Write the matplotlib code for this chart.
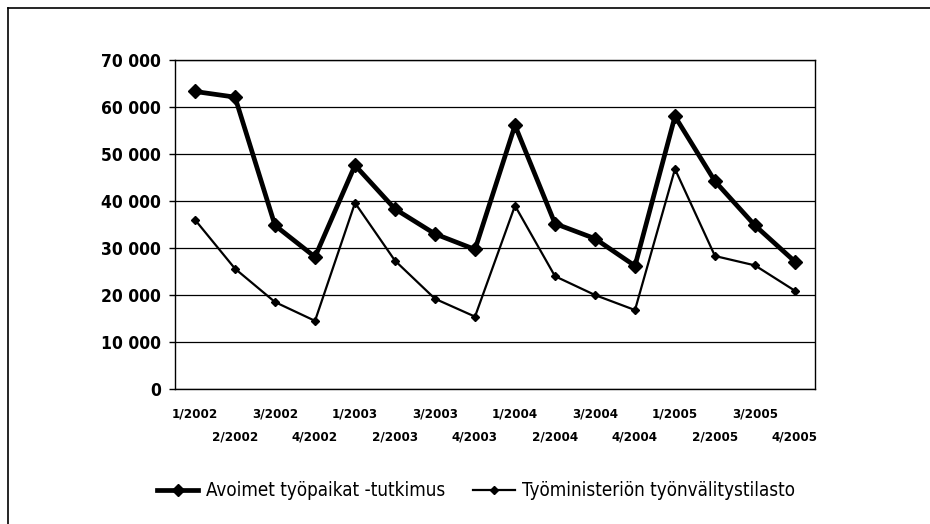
import numpy as np
import matplotlib.pyplot as plt
from matplotlib.lines import Line2D

plt.rcParams['font.family'] = ['DejaVu Sans']
plt.rcParams['font.stretch'] = 'condensed'

quarters = ['1/2002', '2/2002', '3/2002', '4/2002',
            '1/2003', '2/2003', '3/2003', '4/2003',
            '1/2004', '2/2004', '3/2004', '4/2004',
            '1/2005', '2/2005', '3/2005', '4/2005']
avoimet = [63300, 62100, 34800, 28100, 47600, 38300, 33000, 29700,
           56100, 35200, 32000, 26200, 58000, 44200, 34800, 27100]
tyoministerio = [36000, 25600, 18500, 14500, 39600, 27300, 19200, 15400,
                 39000, 24000, 20000, 16800, 46800, 28300, 26300, 20900]
yticks = [0, 10000, 20000, 30000, 40000, 50000, 60000, 70000]
ytick_labels = ['0', '10 000', '20 000', '30 000', '40 000', '50 000', '60 000', '70 000']

fig = plt.figure(figsize=(9.3, 5.24), dpi=100)
ax = fig.add_axes([0.1882, 0.2576, 0.6881, 0.6279])

x = np.arange(len(quarters))
ax.plot(x, avoimet, color='black', lw=3.4, marker='D', ms=7.5,
        label='Avoimet työpaikat -tutkimus', zorder=3)
ax.plot(x, tyoministerio, color='black', lw=1.6, marker='D', ms=4,
        label='Työministeriön työnvälitystilasto', zorder=3)

ax.set_xlim(-0.5, len(quarters) - 0.5)
ax.set_ylim(0, 70000)
ax.set_yticks(yticks)
ax.set_yticklabels(ytick_labels, fontsize=12.5, fontweight='bold')
ax.yaxis.grid(True, color='black', lw=0.9)
ax.set_axisbelow(True)
for s in ax.spines.values():
    s.set_linewidth(1.0)
    s.set_color('black')
ax.tick_params(axis='y', length=4, width=1, pad=6)
ax.tick_params(axis='x', length=0)

# two-row category labels
ax.set_xticks(x)
ax.set_xticklabels([''] * len(quarters))
for i, q in enumerate(quarters):
    dy = -0.055 if i % 2 == 0 else -0.125
    ax.text(i, dy, q, transform=ax.get_xaxis_transform(), ha='center', va='top',
            fontsize=9.5, fontweight='bold')

handles = [Line2D([], [], color='black', lw=3.4, marker='D', ms=6),
           Line2D([], [], color='black', lw=1.6, marker='D', ms=4)]
fig.legend(handles, ['Avoimet työpaikat -tutkimus', 'Työministeriön työnvälitystilasto'],
           loc='center', bbox_to_anchor=(0.512, 0.063), ncol=2, frameon=False,
           fontsize=13.5, handlelength=2.2, columnspacing=1.5, handletextpad=0.4)

# outer frame lines (top and left)
fig.add_artist(Line2D([0.009, 1.0], [0.985, 0.985], color='black', lw=1.2))
fig.add_artist(Line2D([0.009, 0.009], [0.0, 0.985], color='black', lw=1.2))

fig.savefig('out.png', dpi=100)
